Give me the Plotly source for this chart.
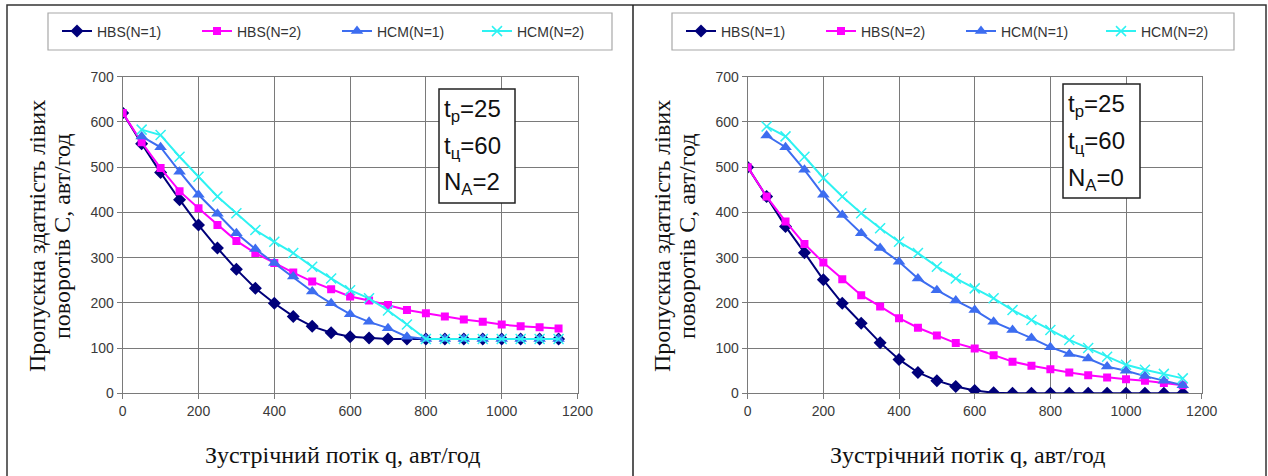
import plotly.graph_objects as go

W, H = 1268, 476

# ---------------- data ----------------
q_hbs = [0, 50, 100, 150, 200, 250, 300, 350, 400, 450, 500, 550, 600, 650, 700, 750,
         800, 850, 900, 950, 1000, 1050, 1100, 1150]
q_hcm = q_hbs[1:]

# left panel (NA = 2)
hbs1_L = [620, 552, 488, 428, 372, 321, 274, 232, 199, 170, 148, 134, 125, 122, 120, 120,
          120, 120, 120, 120, 120, 120, 120, 120]
hbs2_L = [620, 555, 498, 447, 409, 372, 337, 310, 288, 267, 247, 230, 214, 205, 195, 184,
          177, 170, 163, 158, 152, 148, 146, 143]
hcm1_L = [568, 544, 490, 439, 397, 354, 319, 288, 258, 225, 199, 175, 158, 144, 125,
          120, 120, 120, 120, 120, 120, 120, 120]
hcm2_L = [583, 571, 523, 479, 435, 398, 361, 335, 310, 280, 254, 228, 210, 183, 152,
          120, 120, 120, 120, 120, 120, 120, 120]

# right panel (NA = 0)
hbs1_R = [500, 435, 369, 311, 251, 199, 155, 112, 75, 46, 28, 15, 6, 1, 0, 0,
          0, 0, 0, 0, 0, 0, 0, 0]
hbs2_R = [500, 435, 380, 330, 289, 252, 217, 192, 166, 145, 128, 111, 99, 84, 70, 61,
          53, 46, 40, 35, 31, 28, 23, 18]
hcm1_R = [570, 544, 494, 439, 394, 354, 321, 291, 254, 228, 205, 184, 158, 140, 122,
          102, 87, 77, 59, 50, 38, 28, 18]
hcm2_R = [590, 568, 523, 476, 435, 398, 365, 335, 310, 280, 254, 232, 210, 184, 162,
          140, 118, 100, 81, 63, 52, 43, 33]

x_ticks = [0, 200, 400, 600, 800, 1000, 1200]
y_ticks = [0, 100, 200, 300, 400, 500, 600, 700]

names = ["HBS(N=1)", "HBS(N=2)", "HCM(N=1)", "HCM(N=2)"]
colors = ["#00007A", "#FF00FF", "#3D6DF0", "#2EF2F2"]
symbols = ["diamond", "square", "triangle-up", "x-thin-open"]
msizes = [10, 8, 11, 10]

x_title = "Зустрічний потік q, авт/год"
y_title_lines = ["Пропускна здатність лівих", "поворотів С, авт/год"]
boxes = [["t<sub>p</sub>=25", "t<sub>ц</sub>=60", "N<sub>A</sub>=2"],
         ["t<sub>p</sub>=25", "t<sub>ц</sub>=60", "N<sub>A</sub>=0"]]

fig = go.Figure()

panels = [
    (("x", "y"), "legend", [hbs1_L, hbs2_L, hcm1_L, hcm2_L]),
    (("x2", "y2"), "legend2", [hbs1_R, hbs2_R, hcm1_R, hcm2_R]),
]
for (xa, ya), leg, series in panels:
    for i, ys in enumerate(series):
        xs = q_hbs if i < 2 else q_hcm
        marker = dict(symbol=symbols[i], size=msizes[i], color=colors[i])
        if symbols[i].startswith("x-thin"):
            marker["line"] = dict(color=colors[i], width=1.5)
        fig.add_trace(go.Scatter(
            x=xs, y=ys, mode="lines+markers", name=names[i],
            line=dict(color=colors[i], width=2), marker=marker,
            xaxis=xa, yaxis=ya, legend=leg, showlegend=True,
        ))

def px(x):
    return x / W

def py(y):
    return 1 - y / H

grid = "#7a7a7a"
axis_common = dict(
    showgrid=True, gridcolor=grid, gridwidth=1.3,
    showline=True, linecolor=grid, linewidth=1.3, mirror=True,
    ticks="outside", ticklen=5, tickcolor=grid,
    tickfont=dict(family="Liberation Sans, Arial", size=14, color="#3a3a3a"),
    zeroline=False, automargin=False,
)
y_dom = [py(393.3), py(76.7)]
fig.update_layout(
    xaxis=dict(domain=[px(122.7), px(577.5)], range=[0, 1200], tickvals=x_ticks,
               anchor="y", **axis_common),
    yaxis=dict(domain=y_dom, range=[0, 700], tickvals=y_ticks, anchor="x", **axis_common),
    xaxis2=dict(domain=[px(747.7), px(1201.7)], range=[0, 1200], tickvals=x_ticks,
                anchor="y2", **axis_common),
    yaxis2=dict(domain=y_dom, range=[0, 700], tickvals=y_ticks, anchor="x2", **axis_common),
)

leg_common = dict(
    orientation="h", xanchor="left", yanchor="middle",
    xref="paper", yref="paper",
    bgcolor="rgba(0,0,0,0)", borderwidth=0,
    font=dict(family="Liberation Sans, Arial", size=14, color="#333"),
    entrywidth=95, entrywidthmode="pixels", itemclick=False,
)
fig.update_layout(
    legend=dict(x=px(57), y=py(31.5), **leg_common),
    legend2=dict(x=px(681), y=py(31.5), **leg_common),
)

shapes = []
annotations = []
# outer frame and divider
shapes.append(dict(type="rect", xref="paper", yref="paper",
                   x0=px(7), x1=px(1266), y0=py(490), y1=py(5),
                   line=dict(color="#333", width=1.5)))
shapes.append(dict(type="line", xref="paper", yref="paper",
                   x0=px(633), x1=px(633), y0=py(490), y1=py(5),
                   line=dict(color="#222", width=1.5)))
# legend frames
for (x0, x1) in [(48, 612), (672, 1234)]:
    shapes.append(dict(type="rect", xref="paper", yref="paper",
                       x0=px(x0), x1=px(x1), y0=py(50), y1=py(13),
                       line=dict(color="#a8a8a8", width=1.2), fillcolor="white",
                       layer="below"))

box_px = [(439, 515, 89, 203), (1063, 1140, 84, 198)]
for (x0, x1, y0, y1), lines in zip(box_px, boxes):
    shapes.append(dict(type="rect", xref="paper", yref="paper",
                       x0=px(x0), x1=px(x1), y0=py(y1), y1=py(y0),
                       line=dict(color="#222", width=1.5), fillcolor="white",
                       layer="above"))
    for k, t in enumerate(lines):
        annotations.append(dict(
            text=t, xref="paper", yref="paper", x=px(x0 + 3), y=py(y0 + 21 + k * 37),
            xanchor="left", yanchor="middle", showarrow=False,
            font=dict(family="Liberation Sans, Arial", size=24, color="#111")))

# axis titles
for off in [0, 625]:
    annotations.append(dict(
        text=x_title, xref="paper", yref="paper", x=px(342 + off), y=py(455),
        xanchor="center", yanchor="middle", showarrow=False,
        font=dict(family="Liberation Serif, Times New Roman", size=24, color="#111")))
    for k, line in enumerate(y_title_lines):
        annotations.append(dict(
            text=line, xref="paper", yref="paper", x=px(37 + 25 * k + off), y=py(236),
            xanchor="center", yanchor="middle", showarrow=False, textangle=-90,
            font=dict(family="Liberation Serif, Times New Roman", size=24, color="#111")))

fig.update_layout(
    width=W, height=H, margin=dict(l=0, r=0, t=0, b=0, autoexpand=False),
    paper_bgcolor="white", plot_bgcolor="white",
    shapes=shapes, annotations=annotations,
)

fig.write_html("out.html", config={"displayModeBar": False},
               post_script="document.body.style.margin='0';document.body.style.overflow='hidden';")
